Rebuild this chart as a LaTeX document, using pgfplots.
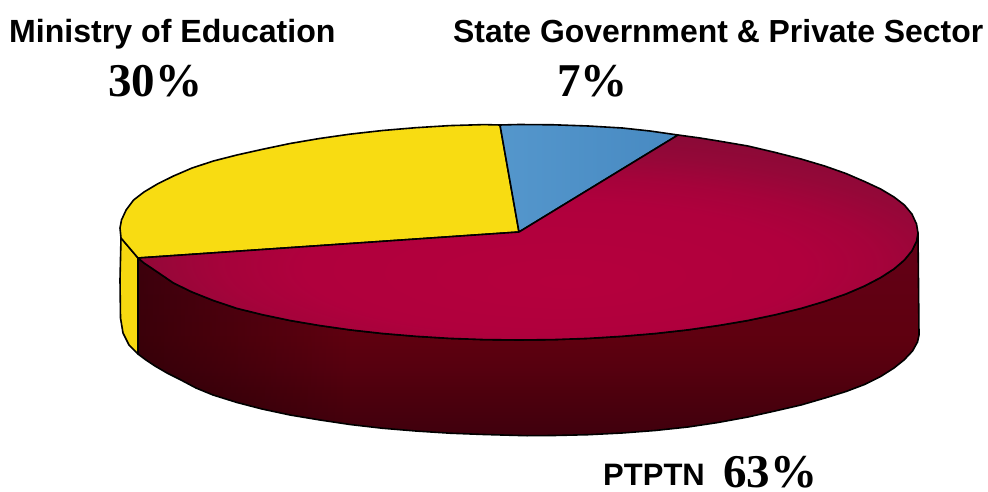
\documentclass[border=0pt]{standalone}
\usepackage{pgfplots}
\usepackage{fontspec}
\usetikzlibrary{fadings}
\pgfplotsset{compat=1.18}
\setmainfont{Liberation Sans}
\newfontfamily\numfont{Liberation Serif}

\definecolor{pieyellow}{RGB}{248, 220, 18}
\definecolor{sideyellow}{RGB}{246, 216, 16}
% tikz maps a path's box onto the middle 50bp of a shading
\pgfdeclareradialshading{redtop}{\pgfpoint{2.5bp}{-11bp}}{
	rgb(0bp)=(.71,0,.24);
	rgb(16bp)=(.69,0,.24);
	rgb(21bp)=(.65,.01,.23);
	rgb(26bp)=(.58,.03,.22);
	rgb(33bp)=(.52,.04,.21);
	rgb(50bp)=(.52,.04,.21)
}
\pgfdeclareverticalshading{redside}{100bp}{
	rgb(0bp)=(.25,0,.05);
	rgb(25bp)=(.25,0,.05);
	rgb(35bp)=(.30,0,.05);
	rgb(42bp)=(.34,0,.06);
	rgb(49bp)=(.37,0,.06);
	rgb(75bp)=(.39,0,.09);
	rgb(100bp)=(.39,0,.09)
}

\begin{document}
\begin{tikzpicture}
	\useasboundingbox (0,0) rectangle (988pt,492pt);
	\begin{axis}[
		at = {(0,0)},
		anchor = south west,
		scale only axis,
		width = 988pt,
		height = 492pt,
		xmin = 0, xmax = 988,
		ymin = 0, ymax = 492,
		y dir = reverse,
		hide axis,
		clip = false,
		every axis plot/.append style = {mark=none, line width=1.6pt, line join=round},
	]
		% side wall of the red slice
		\addplot[draw=black, shade, shading=redside] coordinates {
			(918,233) (919,335) (917.5,342) (912.5,351) (904,360) (894,368) (880.6,376.5)
			(864.5,384.5) (846,391.5) (825,398) (801,405) (775,411) (748,417) (718,422.5)
			(688,427) (655,430.5) (622,433) (588,434.7) (553.8,435.5) (527,435.7) (484,434.5)
			(450,433.2) (415.7,431) (382,428.2) (350,424.5) (320,420) (290,415) (262,409)
			(237,402.5) (213,395) (196,388) (180,379.5) (167,373) (155,366) (146,360)
			(138,354) (138,258)
			(144,263) (157.4,272) (173.5,283) (192,292) (213.4,300.5) (236.9,308.4)
			(262.5,314.7) (290.1,320.5) (319.5,325.5) (350.4,329.9) (382.5,333.5)
			(415.7,336.3) (449.7,338.4) (484.2,339.6) (519,340) (553.8,339.6) (588.3,338.4)
			(622.3,336.3) (655.5,333.5) (687.6,329.9) (718.5,325.5) (747.9,320.5)
			(775.5,314.7) (801.1,308.4) (824.6,301.4) (845.9,294) (864.5,286) (880.6,277.6)
			(894,268.9) (904.4,260) (911.9,250.8) (916.5,241.4) (918,233)
		} -- cycle;

		% the wall gets darker towards its left end
		\addplot[draw=none, fill=black, fill opacity=.38, path fading=east] coordinates {
			(138,258) (138,354) (146,360) (155,366) (167,373) (180,379.5) (196,388)
			(213,395) (237,402.5) (262,409) (290,415) (320,420) (350,424.5)
			(350.4,329.9) (319.5,325.5) (290.1,320.5) (262.5,314.7) (236.9,308.4)
			(213.4,300.5) (192,292) (173.5,283) (157.4,272) (144,263)
		} -- cycle;

		% side wall of the yellow slice
		\addplot[draw=black, fill=sideyellow] coordinates {
			(121,238) (138,258) (138,354) (129,345) (123,333) (120.5,318) (120,280)
		} -- cycle;

		% yellow slice, 30%
		\addplot[draw=black, fill=pieyellow] coordinates {
			(519,232) (138,258) (121,238) (120,228) (121.5,220) (126.1,210)
			(133.6,200) (144,192) (157.4,184) (173.5,176) (192.1,168) (213.4,161)
			(236.9,155) (262.5,149.3) (290.1,143.5) (319.5,138.5) (350.4,134.1)
			(382.5,130.5) (415.7,127.7) (449.7,125.6) (484.2,124.6) (500,125)
		} -- cycle;

		% blue slice, 7%
		\addplot[draw=black, left color={rgb,1:red,.33;green,.59;blue,.80}, right color={rgb,1:red,.28;green,.54;blue,.76}] coordinates {
			(519,232) (500,125) (519,124.5) (553.8,124.8) (588.3,126) (622.3,128)
			(650,131) (678,135)
		} -- cycle;

		% red slice, 63%
		\addplot[draw=black, shade, shading=redtop] coordinates {
			(519,232) (678,135) (700,138) (718.5,141) (747.9,146) (775.5,152.5)
			(801,159) (824.6,166) (845.9,173.5) (864.5,181.5) (880.6,189) (894,197)
			(904.4,205) (911.9,214) (916.5,224) (918,233) (916.5,241.4) (911.9,250.8)
			(904.4,260) (894,268.9) (880.6,277.6) (864.5,286) (845.9,294) (824.6,301.4)
			(801.1,308.4) (775.5,314.7) (747.9,320.5) (718.5,325.5) (687.6,329.9)
			(655.5,333.5) (622.3,336.3) (588.3,338.4) (553.8,339.6) (519,340)
			(484.2,339.6) (449.7,338.4) (415.7,336.3) (382.5,333.5) (350.4,329.9)
			(319.5,325.5) (290.1,320.5) (262.5,314.7) (236.9,308.4) (213.4,300.5)
			(192,292) (173.5,283) (157.4,272) (144,263) (138,258)
		} -- cycle;

		\node[anchor=base west, inner sep=0pt] at (axis cs:9,42.5)
			{\fontsize{32.1}{33}\selectfont\bfseries Ministry of Education};
		\node[anchor=base west, inner sep=0pt] at (axis cs:453,42.5)
			{\fontsize{31.9}{33}\selectfont\bfseries State Government \& Private Sector};
		\node[anchor=base west, inner sep=0pt] at (axis cs:108,97)
			{\fontsize{47}{48}\selectfont\numfont\bfseries 30\%};
		\node[anchor=base west, inner sep=0pt] at (axis cs:557,97)
			{\fontsize{47}{48}\selectfont\numfont\bfseries 7\%};
		\node[anchor=base west, inner sep=0pt] at (axis cs:603,485)
			{\fontsize{31}{32}\selectfont\bfseries PTPTN};
		\node[anchor=base west, inner sep=0pt] at (axis cs:723,487)
			{\fontsize{47}{48}\selectfont\numfont\bfseries 63\%};
	\end{axis}
\end{tikzpicture}
\end{document}
